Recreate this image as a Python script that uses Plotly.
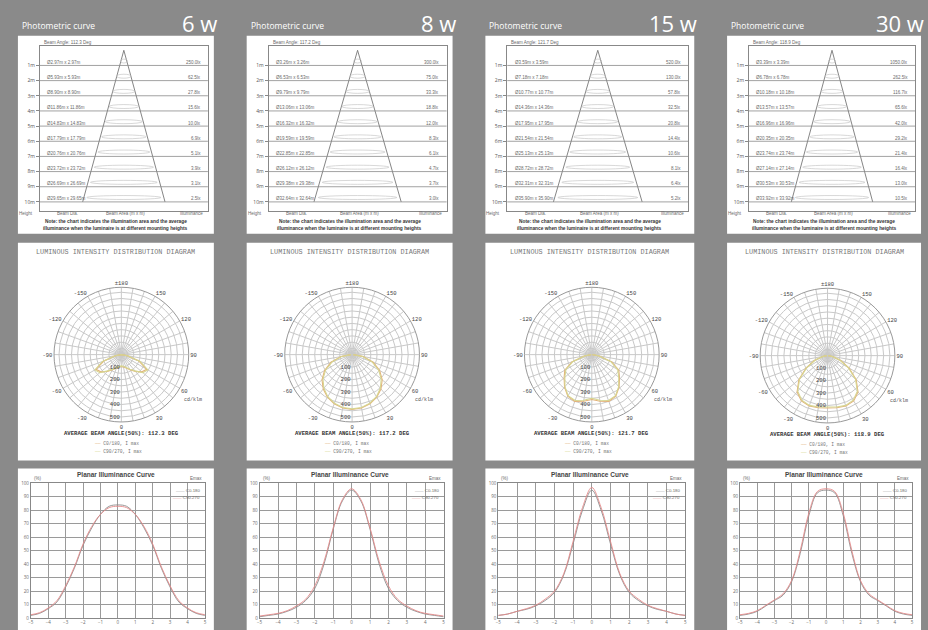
import plotly.graph_objects as go

W, H = 928, 630
BG = "#8a8a8a"

# ---- data ----
WATTS = ["6 w", "8 w", "15 w", "30 w"]
BEAM_ANGLE = [112.3, 117.2, 121.7, 118.9]

HEIGHTS = [1, 2, 3, 4, 5, 6, 7, 8, 9, 10]
HEIGHT_LABELS = ["1m", "2m", "3m", "4m", "5m", "6m", "7m", "8m", "9m", "10m"]

DIAM_6W = [2.97, 5.93, 8.90, 11.86, 14.83, 17.79, 20.76, 23.72, 26.69, 29.65]
DIAM_8W = [3.26, 6.53, 9.79, 13.06, 16.32, 19.59, 22.85, 26.12, 29.38, 32.64]
DIAM_15W = [3.59, 7.18, 10.77, 14.36, 17.95, 21.54, 25.13, 28.72, 32.31, 35.90]
DIAM_30W = [3.39, 6.78, 10.18, 13.57, 16.96, 20.35, 23.74, 27.14, 30.53, 33.92]

LUX_6W = [250.0, 62.5, 27.8, 15.6, 10.0, 6.9, 5.1, 3.9, 3.1, 2.5]
LUX_8W = [300.0, 75.0, 33.3, 18.8, 12.0, 8.3, 6.1, 4.7, 3.7, 3.0]
LUX_15W = [520.0, 130.0, 57.8, 32.5, 20.8, 14.4, 10.6, 8.1, 6.4, 5.2]
LUX_30W = [1050.0, 262.5, 116.7, 65.6, 42.0, 29.2, 21.4, 16.4, 13.0, 10.5]

# polar intensity (cd/klm) at gamma 0..90
GAMMA = [0, 10, 20, 30, 40, 50, 60, 70, 80, 90]
C0_6W = [95, 100, 115, 140, 175, 215, 235, 150, 45, 0]
C90_6W = [90, 95, 110, 135, 170, 225, 245, 160, 50, 0]
C0_8W = [440, 435, 420, 395, 360, 315, 255, 180, 90, 10]
C90_8W = [435, 430, 415, 390, 352, 305, 245, 170, 85, 8]
C0_15W = [360, 380, 400, 385, 340, 290, 250, 170, 60, 5]
C90_15W = [350, 372, 392, 380, 335, 282, 240, 160, 55, 5]
C0_30W = [420, 425, 430, 420, 380, 300, 200, 110, 40, 5]
C90_30W = [412, 418, 425, 412, 372, 292, 192, 104, 36, 4]

# plane illuminance curve (%), x = -5..0 m, symmetric
X_HALF = [-5, -4.5, -4, -3.5, -3, -2.5, -2, -1.5, -1, -0.5, 0]
CURVE_A_6W = [2, 3.5, 7, 12, 23, 37, 54, 67, 77, 83, 84]
CURVE_B_6W = [2.5, 4, 7.5, 13, 24, 38, 55, 68, 77, 82, 83]
CURVE_A_8W = [1, 2, 3, 5, 8, 13, 22, 40, 66, 87, 95]
CURVE_B_8W = [1.5, 2.5, 3.5, 5.5, 9, 14, 24, 42, 67, 88, 96]
CURVE_A_15W = [2, 3, 5, 6.5, 9, 13, 19, 32, 55, 80, 95]
CURVE_B_15W = [2, 3, 5, 7, 9.5, 14, 20, 33, 57, 82, 97]
CURVE_A_30W = [2, 3, 5, 9, 13, 17, 27, 48, 76, 93, 95]
CURVE_B_30W = [2.5, 3.5, 5.5, 9.5, 13.5, 18, 28, 50, 78, 94, 96]

DIAMS = [DIAM_6W, DIAM_8W, DIAM_15W, DIAM_30W]
LUXES = [LUX_6W, LUX_8W, LUX_15W, LUX_30W]
C0S = [C0_6W, C0_8W, C0_15W, C0_30W]
C90S = [C90_6W, C90_8W, C90_15W, C90_30W]
CURVE_A = [CURVE_A_6W, CURVE_A_8W, CURVE_A_15W, CURVE_A_30W]
CURVE_B = [CURVE_B_6W, CURVE_B_8W, CURVE_B_15W, CURVE_B_30W]

# ---- layout geometry (pixels) ----
PANEL_X = [(15, 212), (245, 452), (485, 695), (728, 923)]
POLAR_C = [(119, 355), (351, 355), (592, 355), (829, 356)]
POLAR_R = 68


def px(x):
    return x / W


def py(y):
    return 1 - y / H


fig = go.Figure()
shapes = []
annos = []
layout = {}

GRID = "#9a9a9a"
TXT = "#6a6a6a"


def note(x, y, text, size=5, color=TXT, anchor="center", bold=False, family="Arial"):
    if bold:
        text = f"<b>{text}</b>"
    annos.append(dict(x=x, y=y, xref="paper", yref="paper", text=text, showarrow=False,
                      xanchor=anchor, yanchor="middle",
                      font=dict(size=size, color=color, family=family)))


for c in range(4):
    L, R = PANEL_X[c]
    # white panels
    for y0, y1 in [(33, 233), (242, 462), (470, 640)]:
        shapes.append(dict(type="rect", xref="paper", yref="paper", x0=px(L), x1=px(R),
                           y0=py(y1), y1=py(y0), fillcolor="white", line=dict(width=0), layer="below"))
    # header
    note(px(L + 2), py(23), "Photometric curve", size=8.5, color="white", anchor="left", family="Open Sans")
    note(px(R + 5), py(20), WATTS[c], size=22, color="white", anchor="right", family="Open Sans")

    # ---------- cone ----------
    n = 2 * c + 1
    xa = "x" if n == 1 else f"x{n}"
    ya = "y" if n == 1 else f"y{n}"
    diam = DIAMS[c]
    lux = LUXES[c]
    half = diam[-1] / 2 / 0.49
    layout["xaxis" if n == 1 else f"xaxis{n}"] = dict(
        domain=[px(L + 22), px(R - 6)], range=[-half, half], anchor=ya,
        showgrid=False, zeroline=False, showticklabels=False, showline=True,
        linecolor="#888", linewidth=0.8, mirror=True, ticks="")
    layout["yaxis" if n == 1 else f"yaxis{n}"] = dict(
        domain=[py(210), py(43)], range=[10.6, -0.31], anchor=xa,
        showgrid=False, zeroline=False, showline=True, linecolor="#888", linewidth=0.8, mirror=True,
        tickmode="array", tickvals=HEIGHTS, ticktext=HEIGHT_LABELS, ticks="outside", ticklen=3,
        tickcolor="#888", tickfont=dict(size=5, color="#555"))
    fig.add_trace(go.Scatter(x=[-d / 2 for d in diam[::-1]] + [0] + [d / 2 for d in diam],
                             y=HEIGHTS[::-1] + [0] + HEIGHTS, mode="lines",
                             line=dict(color="#777", width=0.9), xaxis=xa, yaxis=ya,
                             showlegend=False, hoverinfo="skip"))
    for h, d, e in zip(HEIGHTS, diam, lux):
        shapes.append(dict(type="line", xref=f"{xa} domain", yref=ya, x0=0, x1=1, y0=h, y1=h,
                           line=dict(color="#8a8a8a", width=0.8)))
        shapes.append(dict(type="circle", xref=xa, yref=ya, x0=-d / 2 * 0.9, x1=d / 2 * 0.9,
                           y0=h - 0.42, y1=h - 0.16, line=dict(color="#bdbdbd", width=0.6)))
        annos.append(dict(xref=f"{xa} domain", yref=ya, x=0.03, y=h, yshift=3, showarrow=False,
                          xanchor="left", text=f"Ø{d:.2f}m x {d:.2f}m",
                          font=dict(size=4.5, color=TXT, family="Arial")))
        annos.append(dict(xref=f"{xa} domain", yref=ya, x=0.97, y=h, yshift=3, showarrow=False,
                          xanchor="right", text=f"{e:.1f}lx",
                          font=dict(size=4.5, color=TXT, family="Arial")))
    note(px(L + 24), py(40), f"Beam Angle: {BEAM_ANGLE[c]} Deg", size=4.5, anchor="left")
    note(px(L + 8), py(213), "Height", size=4.5)
    note(px(L + 50), py(213), "Beam Dia.", size=4.5)
    note(px((L + R) / 2 + 10), py(213), "Beam Area (m x m)", size=4.5)
    note(px(R - 22), py(213), "Illuminance", size=4.5)
    note(px((L + R) / 2), py(221), "Note: the chart indicates the illumination area and the average",
         size=4.8, color="#333", bold=True)
    note(px((L + R) / 2), py(228), "illuminance when the luminaire is at different mounting heights",
         size=4.8, color="#333", bold=True)

    # ---------- polar ----------
    pn = "polar" if c == 0 else f"polar{c + 1}"
    cx, cy = POLAR_C[c]
    theta = [-g for g in GAMMA[::-1]] + GAMMA[1:]
    for vals, col, nm in [(C0S[c], "#e3b27a", "C0/180"), (C90S[c], "#d6d690", "C90/270")]:
        fig.add_trace(go.Scatterpolar(theta=theta, r=vals[::-1] + vals[1:], mode="lines",
                                      line=dict(color=col, width=1.1), subplot=pn,
                                      showlegend=False, hoverinfo="skip", name=nm))
    ang_vals = list(range(0, 360, 10))
    ang_text = []
    for a in ang_vals:
        if a % 30:
            ang_text.append("")
        elif a == 180:
            ang_text.append("±180")
        elif a > 180:
            ang_text.append(str(a - 360))
        else:
            ang_text.append(str(a))
    layout[pn] = dict(
        domain=dict(x=[px(cx - POLAR_R), px(cx + POLAR_R)], y=[py(cy + POLAR_R), py(cy - POLAR_R)]),
        bgcolor="white",
        angularaxis=dict(rotation=-90, direction="counterclockwise", tickmode="array",
                         tickvals=ang_vals, ticktext=ang_text, gridcolor="#c9c9c9", gridwidth=0.7,
                         linecolor="#999", linewidth=1, ticks="",
                         tickfont=dict(size=5.5, color="#444", family="Liberation Mono")),
        radialaxis=dict(range=[0, 540], angle=-90, tickangle=-90, tickmode="array",
                        tickvals=[50, 100, 150, 200, 250, 300, 350, 400, 450, 500],
                        ticktext=["", "100", "", "200", "", "300", "", "400", "", "500"],
                        gridcolor="#c9c9c9", gridwidth=0.7, showline=False, ticks="",
                        tickfont=dict(size=5.5, color="#444", family="Liberation Mono")),
    )
    note(px((L + R) / 2), py(251), "LUMINOUS INTENSITY DISTRIBUTION DIAGRAM", size=6.8,
         color="#777", family="Liberation Mono")
    note(px(cx + POLAR_R + 4), py(cy + 46), "cd/klm", size=5, color="#555", family="Liberation Mono")
    note(px(cx), py(cy + 80), f"AVERAGE BEAM ANGLE(50%): {BEAM_ANGLE[c]} DEG", size=5.6,
         color="#333", bold=True, family="Liberation Mono")
    note(px(cx - 30), py(cy + 90), "<span style='color:#e3b27a'>——</span> C0/180, I max", size=4.6,
         color="#777", anchor="left", family="Liberation Mono")
    note(px(cx - 30), py(cy + 98), "<span style='color:#d6d690'>——</span> C90/270, I max", size=4.6,
         color="#777", anchor="left", family="Liberation Mono")

    # ---------- illuminance curve ----------
    n = 2 * c + 2
    xa = f"x{n}"
    ya = f"y{n}"
    layout[f"xaxis{n}"] = dict(
        domain=[px(L + 13), px(R - 9)], range=[-5, 5], anchor=ya, dtick=1,
        showgrid=True, gridcolor=GRID, gridwidth=0.9, zeroline=False, showline=True,
        linecolor="#888", mirror=True, ticks="", tickfont=dict(size=4.5, color=TXT))
    layout[f"yaxis{n}"] = dict(
        domain=[py(621), py(485)], range=[0, 100], anchor=xa, dtick=10,
        showgrid=True, gridcolor=GRID, gridwidth=0.9, zeroline=False, showline=True,
        linecolor="#888", mirror=True, ticks="", tickfont=dict(size=4.5, color=TXT))
    xs = X_HALF + [-x for x in X_HALF[-2::-1]]
    for vals, col in [(CURVE_A[c], "#8c8c8c"), (CURVE_B[c], "#e58a8a")]:
        fig.add_trace(go.Scatter(x=xs, y=vals + vals[-2::-1], mode="lines", line=dict(color=col, width=0.9),
                                 line_shape="spline", xaxis=xa, yaxis=ya, showlegend=False, hoverinfo="skip"))
    note(px((L + R) / 2), py(476), "Planar Illuminance Curve", size=6.5, color="#444", bold=True)
    note(px(L + 14), py(480), "(%)", size=4.5, anchor="left")
    note(px(R - 10), py(480), "Emax", size=4.5, anchor="right")
    note(px(R - 12), py(492), "<span style='color:#8c8c8c'>——</span> C0-180", size=4.3, anchor="right")
    note(px(R - 12), py(499), "<span style='color:#e58a8a'>——</span> C90-270", size=4.3, anchor="right")

fig.update_layout(
    width=W, height=H, margin=dict(l=0, r=0, t=0, b=0),
    paper_bgcolor=BG, plot_bgcolor="white",
    shapes=shapes, annotations=annos, showlegend=False,
    **layout,
)

# the page's default body margin would shift the 928x630 figure by 8px
fig.write_html("out.html", config={"displayModeBar": False},
               post_script="document.body.style.margin='0';")
